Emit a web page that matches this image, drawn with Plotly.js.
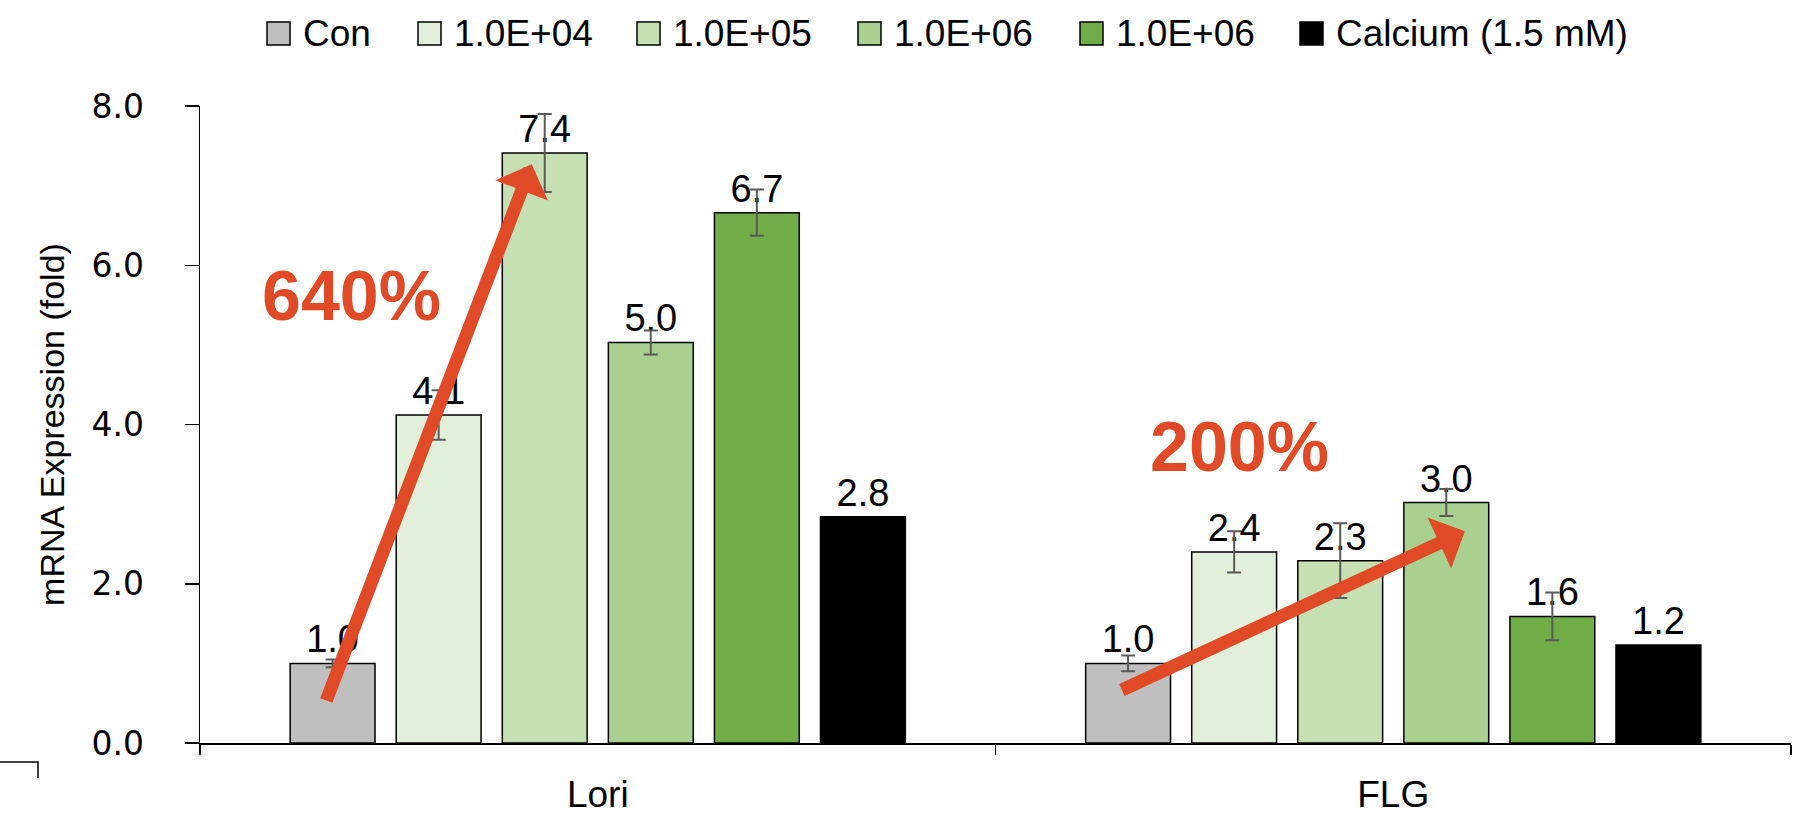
<!DOCTYPE html>
<html><head><meta charset="utf-8">
<script src="https://cdn.plot.ly/plotly-3.0.1.min.js"></script>
<style>html,body{margin:0;padding:0;background:#fff}#chart{width:1806px;height:815px}</style>
</head><body><div id="chart"></div>
<script>
// ---- data ----
const categories = ['Lori', 'FLG'];
const seriesNames = ['Con', '1.0E+04', '1.0E+05', '1.0E+06', '1.0E+06', 'Calcium (1.5 mM)'];
const con      = [1.00, 1.00];
const dose1e4  = [4.12, 2.40];
const dose1e5  = [7.41, 2.29];
const dose1e6a = [5.03, 3.02];
const dose1e6b = [6.66, 1.59];
const calcium  = [2.84, 1.23];
const errCon      = [0.05, 0.10];
const err1e4      = [0.31, 0.26];
const err1e5      = [0.49, 0.47];
const err1e6a     = [0.15, 0.17];
const err1e6b     = [0.29, 0.30];
const errCalcium  = [null, null];
const yTicks = [0, 2, 4, 6, 8];
const increaseLabels = ['640%', '200%'];

// ---- style / layout constants ----
const W = 1806, H = 815;
const M = {l: 200, r: 15, t: 106, b: 72};
const colors = ['#BFBFBF', '#E2EFDA', '#C6E0B4', '#A9D08E', '#70AD47', '#000000'];
const accent = '#E04A26';
const txtFont = 'Liberation Sans, Arial, sans-serif';
const px2x = px => (px - M.l) / (W - M.l - M.r);
const px2y = py => (H - M.b - py) / (H - M.t - M.b);

const values = [con, dose1e4, dose1e5, dose1e6a, dose1e6b, calcium];
const errors = [errCon, err1e4, err1e5, err1e6a, err1e6b, errCalcium];

const traces = values.map((v, i) => ({
  type: 'bar',
  name: seriesNames[i],
  x: categories,
  y: v,
  text: v.map(d => d.toFixed(1)),
  textposition: 'outside',
  textfont: {family: txtFont, size: 38, color: '#000'},
  cliponaxis: false,
  constraintext: 'none',
  marker: {color: colors[i], line: {color: '#000', width: 1.5}},
  error_y: {
    type: 'data', array: errors[i].map(e => e == null ? 0 : e),
    visible: errors[i].some(e => e != null),
    color: '#595959', thickness: 2, width: 7
  },
  showlegend: false,
  hoverinfo: 'skip'
}));

// custom legend (large swatches)
const legendSquareLeft = [267, 418, 637, 858, 1080, 1300];
const legendSize = 23, legendCY = 33.5, legendTextGap = 34;
const shapes = [];
const annotations = [];
seriesNames.forEach((n, i) => {
  shapes.push({type: 'rect', xref: 'paper', yref: 'paper',
    x0: px2x(legendSquareLeft[i]), x1: px2x(legendSquareLeft[i] + legendSize),
    y0: px2y(legendCY - legendSize / 2), y1: px2y(legendCY + legendSize / 2),
    fillcolor: colors[i], line: {color: '#000', width: 1.5}});
  annotations.push({xref: 'paper', yref: 'paper', x: px2x(legendSquareLeft[i] + legendTextGap),
    y: px2y(legendCY), xanchor: 'left', yanchor: 'middle', showarrow: false,
    text: n, font: {family: txtFont, size: 37, color: '#000'}});
});

// stray corner bracket at bottom left
shapes.push({type: 'path', xref: 'paper', yref: 'paper',
  path: `M ${px2x(0)},${px2y(762)} L ${px2x(38)},${px2y(762)} L ${px2x(38)},${px2y(778)}`,
  line: {color: '#000', width: 1.5}});

// increase arrows (tail -> head, in axis units)
const arrows = [
  {tx: -0.342, ty: 0.515, hx: -0.083, hy: 7.27},
  {tx: 0.657, ty: 0.657, hx: 1.090, hy: 2.66}
];
arrows.forEach(a => annotations.push({
  xref: 'x', yref: 'y', axref: 'x', ayref: 'y',
  x: a.hx, y: a.hy, ax: a.tx, ay: a.ty,
  text: '', showarrow: true, arrowhead: 1, arrowsize: 0.72, arrowwidth: 13,
  arrowcolor: accent, standoff: 0, startstandoff: 0
}));
const pctPos = [{x: -0.310, y: 5.615}, {x: 0.807, y: 3.72}];
increaseLabels.forEach((t, i) => annotations.push({
  xref: 'x', yref: 'y', x: pctPos[i].x, y: pctPos[i].y, showarrow: false,
  xanchor: 'center', yanchor: 'middle',
  text: '<b>' + t + '</b>', font: {family: txtFont, size: 70, color: accent}
}));

const layout = {
  width: W, height: H,
  margin: M,
  paper_bgcolor: '#fff', plot_bgcolor: '#fff',
  barmode: 'group', bargap: 0.2, bargroupgap: 0.2,
  showlegend: false,
  hovermode: false,
  xaxis: {
    type: 'category', showline: true, linecolor: '#000', linewidth: 1.5,
    ticks: 'outside', tickson: 'boundaries', ticklen: 10, tickwidth: 1.5, tickcolor: '#000',
    tickfont: {family: txtFont, size: 37, color: '#000'},
    ticklabelstandoff: 18, showgrid: false, zeroline: false, automargin: false
  },
  yaxis: {
    range: [0, 8], tickvals: yTicks, tickformat: '.1f',
    showline: true, linecolor: '#000', linewidth: 1.5,
    ticks: 'outside', ticklen: 14, tickwidth: 1.5, tickcolor: '#000',
    tickfont: {family: 'DejaVu Sans, sans-serif', size: 33, color: '#000'},
    ticklabelstandoff: 34,
    showgrid: false, zeroline: false, automargin: false,
    title: {text: 'mRNA Expression (fold)', font: {family: txtFont, size: 34, color: '#000'}, standoff: 16}
  },
  shapes: shapes,
  annotations: annotations
};

Plotly.newPlot('chart', traces, layout, {displayModeBar: false, staticPlot: true});
</script>
</body></html>
